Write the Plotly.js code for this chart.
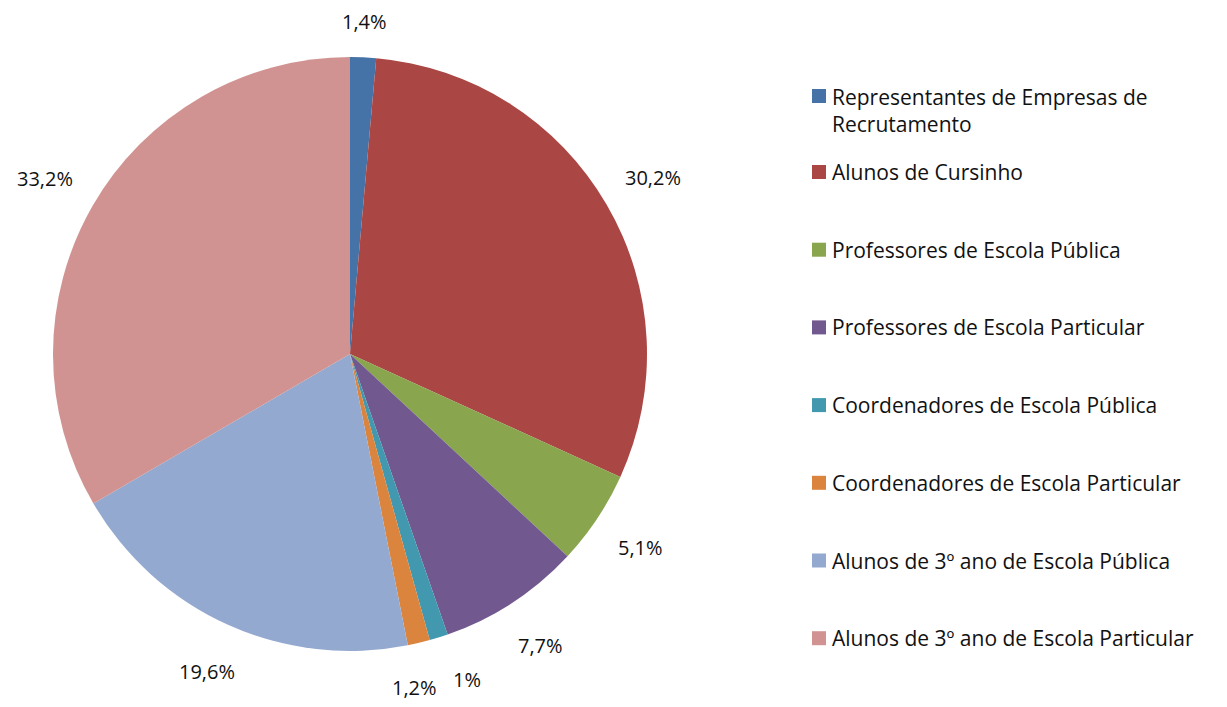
<!DOCTYPE html>
<html><head><meta charset="utf-8">
<script src="https://cdn.plot.ly/plotly-3.0.1.min.js"></script>
<style>html,body{margin:0;padding:0;background:#fff}#chart{width:1227px;height:707px}</style>
</head><body><div id="chart"></div>
<script>
const categories = [
  "Representantes de Empresas de Recrutamento",
  "Alunos de Cursinho",
  "Professores de Escola Pública",
  "Professores de Escola Particular",
  "Coordenadores de Escola Pública",
  "Coordenadores de Escola Particular",
  "Alunos de 3º ano de Escola Pública",
  "Alunos de 3º ano de Escola Particular"
];
const legendLabels = [
  "Representantes de Empresas de<br>Recrutamento",
  "Alunos de Cursinho",
  "Professores de Escola Pública",
  "Professores de Escola Particular",
  "Coordenadores de Escola Pública",
  "Coordenadores de Escola Particular",
  "Alunos de 3º ano de Escola Pública",
  "Alunos de 3º ano de Escola Particular"
];
const values = [1.4, 30.2, 5.1, 7.7, 1, 1.2, 19.6, 33.2];
const valueLabels = ["1,4%", "30,2%", "5,1%", "7,7%", "1%", "1,2%", "19,6%", "33,2%"];
const colors = ["#4572A7", "#AA4643", "#89A54E", "#71588F", "#4198AF", "#DB843D", "#93A9CF", "#D19392"];

const W = 1227, H = 707;
const cx = 350, cy = 354, R = 297;
const FONT = "Open Sans, Liberation Sans, Arial, sans-serif";
const FS = 20, LFS = 21;

const trace = {
  type: "pie",
  labels: categories,
  values: values,
  sort: false,
  direction: "clockwise",
  rotation: 0,
  textinfo: "none",
  hoverinfo: "label+percent",
  marker: {colors: colors, line: {width: 0}},
  domain: {x: [(cx - R) / W, (cx + R) / W], y: [(H - cy - R) / H, (H - cy + R) / H]},
  showlegend: false
};

// data labels placed around the pie at each slice's mid-angle
const total = values.reduce((a, b) => a + b, 0);
const pos = [];
let cum = 0;
values.forEach((v, i) => {
  const mid = (cum + v / 2) / total * 2 * Math.PI;
  cum += v;
  const s = Math.sin(mid), c = Math.cos(mid);
  const w = valueLabels[i].length * 11;
  const off = 26 + (w / 2) * Math.abs(s) + 9 * Math.abs(c) + 6 * Math.max(0, -c);
  pos.push({x: cx + (R + off) * s, y: cy - (R + off) * c, w: w});
});
// push overlapping neighbours apart horizontally
for (let k = 0; k < 5; k++) {
  for (let i = 0; i < pos.length; i++) {
    const j = (i + 1) % pos.length;
    const a = pos[i], b = pos[j];
    if (Math.abs(a.y - b.y) < 24) {
      const need = (a.w + b.w) / 2 + 20;
      const d = Math.abs(a.x - b.x);
      if (d < need) {
        const sh = (need - d) / 2;
        if (a.x < b.x) { a.x -= sh; b.x += sh; } else { a.x += sh; b.x -= sh; }
      }
    }
  }
}
const annotations = pos.map((p, i) => ({
  xref: "paper", yref: "paper", x: p.x / W, y: 1 - p.y / H,
  xanchor: "center", yanchor: "middle", showarrow: false,
  text: valueLabels[i], font: {family: FONT, size: FS, color: "#111"}
}));

// legend drawn on the right
const shapes = [];
const legX = 812, sq = 14;
legendLabels.forEach((lab, i) => {
  const yc = i === 0 ? 96 : 172 + (i - 1) * 77.7;
  shapes.push({type: "rect", xref: "paper", yref: "paper",
    x0: legX / W, x1: (legX + sq) / W, y0: 1 - (yc + sq / 2) / H, y1: 1 - (yc - sq / 2) / H,
    fillcolor: colors[i], line: {width: 0}});
  const ty = i === 0 ? yc + 14.5 : yc;
  annotations.push({
    xref: "paper", yref: "paper", x: 830 / W, y: 1 - ty / H,
    xanchor: "left", yanchor: "middle", align: "left", showarrow: false,
    text: lab, font: {family: FONT, size: LFS, color: "#111"}
  });
});

Plotly.newPlot("chart", [trace], {
  width: W, height: H,
  margin: {l: 0, r: 0, t: 0, b: 0},
  paper_bgcolor: "#fff",
  showlegend: false,
  annotations: annotations,
  shapes: shapes
}, {displayModeBar: false, staticPlot: true});
</script></body></html>
